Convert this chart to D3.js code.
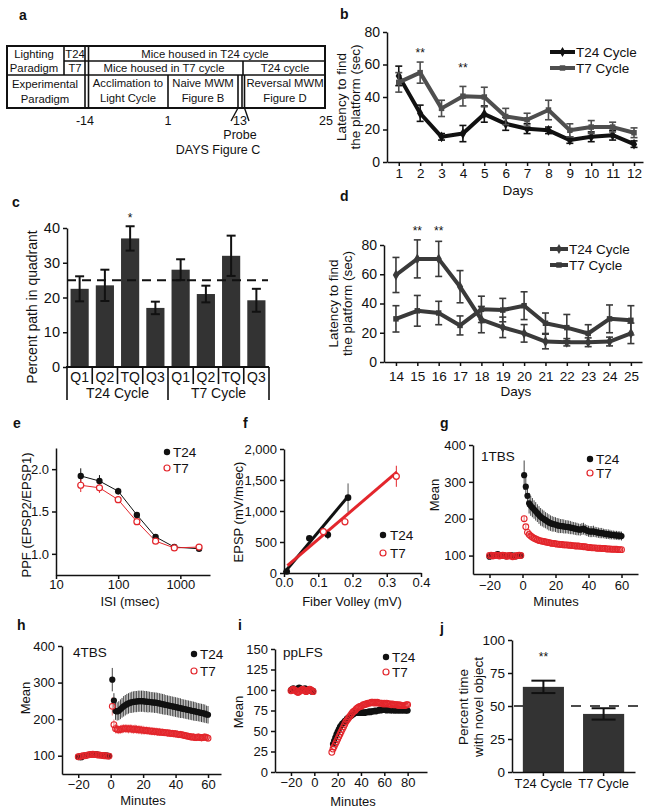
<!DOCTYPE html>
<html><head><meta charset="utf-8">
<script src="https://cdn.jsdelivr.net/npm/d3@7"></script>
<style>body{margin:0;background:#fff} svg{display:block}</style>
</head><body><svg id="c" width="649" height="812"></svg>
<script>
const FONT = '"Liberation Sans", Arial, Helvetica, sans-serif';
const RED = '#e3262c';

// ---------- DATA ----------
// b: naive MWM
const bDays = [1,2,3,4,5,6,7,8,9,10,11,12];
const bT24 = [53,30,15.5,17.5,29.5,23.5,20.5,19.5,13.5,15.5,16.5,11];
const bT24Err = [6,5,2,5,5,4,3,2,2,3,3,2];
const bT7 = [49,55,33,40.5,40,28,26,32,19.5,21.5,21.5,18];
const bT7Err = [6,6.5,5,6,6,5,4,6,4,4,3,3];
const bStarDays = [2,4];
const bStarVals = [67,58];
const bYTicks = [0,20,40,60,80];

// c: probe
const cLabels = ['Q1','Q2','TQ','Q3','Q1','Q2','TQ','Q3'];
const cGroups = ['T24 Cycle','T7 Cycle'];
const cVals = [22.5,23.5,37,17,28,21,32,19.2];
const cErr = [3.6,4.5,3.5,1.8,3,2.4,5.8,3.3];
const cChance = 25;
const cStarIdx = [2];
const cStarVals = [43];
const cYTicks = [0,10,20,30,40];

// d: reversal MWM
const dDays = [14,15,16,17,18,19,20,21,22,23,24,25];
const dT24 = [59.5,70.5,70.5,51.5,29,23.7,19.6,14,13.5,13.5,14,19.6];
const dT24Err = [12,13,12,11,9,7,6,5,2.5,3,3,7];
const dT7 = [29.5,35,33.5,25,36,35.5,38.5,26.5,23.5,19.5,29.5,28.5];
const dT7Err = [9,10.5,8,6.5,9,8,9.5,7,9,6,9.5,10];
const dStarDays = [15,16];
const dStarVals = [89.5,89.5];
const dYTicks = [0,20,40,60,80];

// e: PPF
const eISI = [25,50,100,200,400,800,2000];
const eT24 = [1.92,1.86,1.74,1.46,1.20,1.08,1.06];
const eT24Err = [0.09,0.07,0.04,0.02,0.02,0.01,0.01];
const eT7 = [1.81,1.78,1.64,1.38,1.15,1.07,1.08];
const eT7Err = [0.08,0.06,0.04,0.02,0.02,0.01,0.01];
const eXTicks = [10,100,1000];
const eYTicks = [1.0,1.5,2.0];

// f: input-output
const fT24X = [0.008,0.074,0.128,0.187];
const fT24Y = [25,560,615,1215];
const fT24Err = [10,40,70,230];
const fT7X = [0.115,0.178,0.328];
const fT7Y = [666,827,1560];
const fT7Err = [40,60,170];
const fT24FitX = [0,0.187];
const fT24FitY = [0,1235];
const fT7FitX = [0.01,0.33];
const fT7FitY = [120,1630];
const fXTicks = [0,0.1,0.2,0.3,0.4];
const fYTicks = [0,500,1000,1500,2000];

// g: 1TBS LTP
const gBaseT24 = [97,99,101,100,102,104,101,100,99,100,98,99,100,101,99,100,98,99,101,100];
const gBaseT7  = [100,101,99,100,101,100,99,100,101,100,99,98,100,99,97,98,99,100,101,100];
const gPostT24 = [318,287,262,242,235,230,225,220,215,210, 205,202,199,196,193,190,188,186,185,184,
  182,181,180,180,179,178,178,177,176,175, 174,173,172,171,170,172,173,170,168,166,
  165,165,166,164,163,162,161,161,160,159, 158,158,157,156,156,155,155,154,154,153];
const gPostT24Err = [40,32,30,28,27,26,25,25,24,24, 24,23,23,22,22,22,21,21,20,20,
  20,20,19,19,19,18,18,18,18,17, 17,17,17,16,16,16,16,15,15,15,
  15,15,15,14,14,14,14,14,13,13, 13,13,13,12,12,12,12,12,12,12];
const gPostT7 = [200,178,163,157,153,150,147,145,143,141, 140,139,138,137,136,135,134,133,133,132,
  131,131,130,130,129,129,129,128,128,127, 127,126,126,126,125,125,124,124,123,122,
  122,121,121,121,120,120,120,119,119,119, 118,118,118,117,117,117,117,116,116,116];
const gPostT7Err = [8,6,5,5,5,5,5,5,5,5, 5,5,5,5,5,5,5,5,4,4, 4,4,4,4,4,4,4,4,4,4,
  4,4,4,4,4,4,4,4,4,4, 4,4,4,4,4,4,4,4,3,3, 3,3,3,3,3,3,3,3,3,3];
const gXTicks = [-20,0,20,40,60];
const gYTicks = [100,200,300,400];

// h: 4TBS LTP
const hBaseT24 = [97,96,96,99,100,101,102,103,104,104,103,104,103,102,102,101,101,100,100,99];
const hBaseT7  = [97,98,99,100,100,101,102,103,103,104,103,103,102,102,101,101,100,100,99,99];
const hPostT24 = [308,251,222,221,223,227,231,235,238,241, 243,245,246,247,248,248,249,249,249,249,
  248,248,247,247,246,246,245,245,244,243, 242,241,240,239,238,237,236,235,234,233,
  232,231,230,229,228,227,226,225,224,223, 222,221,220,219,218,217,216,215,213,212];
const hPostT24Err = [32,20,24,25,26,27,27,28,28,28, 28,28,29,29,29,29,29,29,29,29,
  29,29,29,28,28,28,28,28,28,28, 28,28,28,27,27,27,27,27,27,27,
  27,27,27,26,26,26,26,26,26,26, 26,26,25,25,25,25,25,25,24,24];
const hPostT7 = [235,185,174,172,171,172,173,174,174,174, 173,174,173,172,173,172,171,171,170,170,
  169,169,168,168,167,167,166,166,165,165, 164,164,163,163,162,162,161,161,160,160,
  159,158,158,157,156,155,154,153,152,151, 151,150,150,151,150,149,150,151,150,148];
const hPostT7Err = [25,14,13,12,12,12,12,12,12,12, 12,12,12,12,12,12,12,12,12,12,
  11,11,11,11,11,11,11,11,11,11, 10,10,10,10,10,10,10,10,10,10,
  10,10,10,10,10,10,10,10,10,10, 10,10,10,10,10,10,10,10,10,10];

// i: ppLFS LTD
const iBaseT24 = [100,101,102,101,100,101,102,103,102,101,100,101,102,101,100,99,100,99,98,99];
const iBaseT7  = [99,100,101,100,99,98,97,98,99,100,101,100,99,98,99,100,101,100,99,98];
const iPostT24 = [34,38,42,46,49,52,55,57,59,60, 62,63,65,66,67,68,69,70,71,72,
  72,72,73,72,72,73,72,72,73,73, 73,74,73,74,74,74,75,74,75,75,
  76,75,76,76,76,76,75,76,76,75, 76,75,76,75,75,76,75,75,76,75, 75,76,75,75,75];
const iPostT7 = [24,28,31,34,37,40,43,46,49,52, 55,58,61,63,65,67,69,71,73,74,
  75,77,78,79,80,80,81,82,82,83, 83,84,84,84,85,85,84,85,84,85,
  84,84,84,84,83,84,83,84,83,83, 83,82,83,82,82,82,82,81,82,81, 81,81,81,81,82,82];
const iXTicks = [-20,0,20,40,60,80];
const iYTicks = [0,25,50,75,100,125,150];

// j: novel object
const jCats = ['T24 Cycle','T7 Cycle'];
const jVals = [64.5,44];
const jErr = [4.7,4.3];
const jChance = 50;
const jStarVals = [87];
const jYTicks = [0,25,50,75,100];

// ---------- HELPERS ----------
const svg = d3.select('#c');
function styleAxis(g, fs){
  g.attr('font-family', FONT).attr('font-size', fs || 13);
  g.select('.domain').attr('stroke','#111').attr('stroke-width',1.5);
  g.selectAll('.tick line').attr('stroke','#111').attr('stroke-width',1.5);
  g.selectAll('.tick text').attr('fill','#111');
  return g;
}
function text(x, y, s, o){
  o = o || {};
  return svg.append('text').attr('x',x).attr('y',y)
    .attr('font-family',FONT).attr('font-size',o.fs||13)
    .attr('text-anchor',o.anchor||'middle').attr('dominant-baseline','central')
    .attr('font-weight',o.bold?'bold':'normal').attr('fill',o.fill||'#111').text(s);
}
function vtext(x, y, s, fs){
  return svg.append('text').attr('transform',`translate(${x},${y}) rotate(-90)`)
    .attr('font-family',FONT).attr('font-size',fs||13).attr('text-anchor','middle')
    .attr('dominant-baseline','central').attr('fill','#111').text(s);
}
function panel(x,y,s){ text(x,y,s,{bold:true,fs:14,anchor:'start'}); }
function errBars(g, xs, ys, es, x, y, color, cap, sw){
  xs.forEach((xv,i)=>{
    const cx = x(xv), y1 = y(ys[i]+es[i]), y2 = y(ys[i]-es[i]);
    g.append('line').attr('x1',cx).attr('x2',cx).attr('y1',y1).attr('y2',y2).attr('stroke',color).attr('stroke-width',sw||1.5);
    if (cap){
      g.append('line').attr('x1',cx-cap).attr('x2',cx+cap).attr('y1',y1).attr('y2',y1).attr('stroke',color).attr('stroke-width',sw||1.5);
      g.append('line').attr('x1',cx-cap).attr('x2',cx+cap).attr('y1',y2).attr('y2',y2).attr('stroke',color).attr('stroke-width',sw||1.5);
    }
  });
}

// ---------- PANEL A ----------
panel(19,15,'a');
(function(){
  const g = svg.append('g').attr('stroke','#111').attr('fill','none');
  g.append('rect').attr('x',7).attr('y',46).attr('width',318).attr('height',62).attr('stroke-width',2);
  const L = (x1,y1,x2,y2,w)=>g.append('line').attr('x1',x1).attr('y1',y1).attr('x2',x2).attr('y2',y2).attr('stroke-width',w||1.6);
  L(64,61,325,61); L(7,75,325,75);
  L(64,46,64,75); L(85,46,85,108); L(88.5,46,88.5,108);
  L(243,61,243,75);
  L(168,75,168,108); L(238,75,238,108); L(242,75,242,108); L(244.5,75,244.5,108);
  L(238,108,231,121,1.4); L(244.5,108,249,121,1.4);
  const T = (x,y,s)=>text(x,y,s,{fs:11.3});
  T(34,53.5,'Lighting'); T(34,68,'Paradigm');
  T(75,53.5,'T24'); T(75,68,'T7');
  T(205,53.5,'Mice housed in T24 cycle');
  T(164,68,'Mice housed in T7 cycle'); T(285,68,'T24 cycle');
  T(45,84,'Experimental'); T(45,99,'Paradigm');
  T(128,83,'Acclimation to'); T(128,98,'Light Cycle');
  T(203,83,'Naive MWM'); T(203,98,'Figure B');
  T(285,83,'Reversal MWM'); T(285,98,'Figure D');
  const D = (x,y,s)=>text(x,y,s,{fs:12.5});
  D(85,121,'-14'); D(168,121,'1'); D(240,121,'13'); D(326,121,'25');
  D(240,135,'Probe'); D(218,150,'DAYS Figure C');
})();

// ---------- LINE PANELS B / D ----------
function linePanel(o){
  const x = d3.scaleLinear().domain(o.xDom).range(o.xRange);
  const y = d3.scaleLinear().domain([0,80]).range(o.yRange);
  const g = svg.append('g');
  styleAxis(g.append('g').attr('transform',`translate(0,${o.yRange[0]})`)
    .call(d3.axisBottom(x).tickValues(o.days).tickSize(4).tickSizeOuter(0).tickPadding(o.xPad)), 13.5);
  styleAxis(g.append('g').attr('transform',`translate(${o.xRange[0]},0)`)
    .call(d3.axisLeft(y).tickValues(o.yTicks).tickSize(4).tickSizeOuter(0).tickPadding(3)), 14);
  const line = d3.line().x((d,i)=>x(o.days[i])).y(d=>y(d));
  const series = [
    {v:o.t24, e:o.t24e, c:o.c24, sym:d3.symbolDiamond},
    {v:o.t7, e:o.t7e, c:o.c7, sym:d3.symbolSquare}
  ];
  [0,1].forEach(k=>{
    const s = series[k];
    errBars(g, o.days, s.v, s.e, x, y, s.c, 3.5, 1.6);
    g.append('path').datum(s.v).attr('d',line).attr('fill','none').attr('stroke',s.c).attr('stroke-width',4).attr('stroke-linejoin','round');
    g.selectAll(null).data(s.v).enter().append('path')
      .attr('d',d3.symbol().type(s.sym).size(k===0?34:30))
      .attr('transform',(d,i)=>`translate(${x(o.days[i])},${y(d)})`).attr('fill',s.c);
  });
  o.starDays.forEach((dd,i)=>text(x(dd), y(o.starVals[i]), '**', {fs:12}));
  o.leg.forEach((L,i)=>{
    const s = series[i];
    g.append('line').attr('x1',L[0]).attr('x2',L[1]).attr('y1',L[2]).attr('y2',L[2]).attr('stroke',s.c).attr('stroke-width',4);
    g.append('path').attr('d',d3.symbol().type(s.sym).size(30)).attr('transform',`translate(${(L[0]+L[1])/2},${L[2]})`).attr('fill',s.c);
    text(L[1]+1, L[2], i===0?'T24 Cycle':'T7 Cycle', {anchor:'start', fs:13.5});
  });
  text((o.xRange[0]+o.xRange[1])/2+3, o.xLabY, 'Days', {fs:13.5});
  vtext(o.yl1, (o.yRange[0]+o.yRange[1])/2, 'Latency to find', 13.5);
  vtext(o.yl2, (o.yRange[0]+o.yRange[1])/2, 'the platform (sec)', 13.5);
}
panel(340,14,'b');
linePanel({xDom:[0.45,12.42], xRange:[387,643], yRange:[162,32], days:bDays, yTicks:bYTicks, xPad:2,
  t24:bT24, t24e:bT24Err, t7:bT7, t7e:bT7Err, c24:'#111', c7:'#4e4e4e',
  starDays:bStarDays, starVals:bStarVals,
  leg:[[550,575,52],[550,575,68]], xLabY:190, yl1:341, yl2:355});
panel(340,196,'d');
linePanel({xDom:[13.44,25.52], xRange:[384,642], yRange:[362,245], days:dDays, yTicks:dYTicks, xPad:5,
  t24:dT24, t24e:dT24Err, t7:dT7, t7e:dT7Err, c24:'#3a3a3a', c7:'#3a3a3a',
  starDays:dStarDays, starVals:dStarVals,
  leg:[[550,568,249],[550,568,265]], xLabY:391, yl1:333, yl2:347});

// ---------- PANEL C ----------
panel(12,202,'c');
(function(){
  const x = d3.scaleBand().domain(d3.range(cVals.length)).range([67,269]).paddingInner(0.28).paddingOuter(0.14);
  const y = d3.scaleLinear().domain([0,40]).range([367,228]);
  const g = svg.append('g');
  g.selectAll(null).data(cVals).enter().append('rect')
    .attr('x',(d,i)=>x(i)).attr('width',x.bandwidth()).attr('y',d=>y(d)).attr('height',d=>y(0)-y(d)).attr('fill','#333');
  errBars(g, d3.range(cVals.length), cVals, cErr, i=>x(i)+x.bandwidth()/2, y, '#111', 4.5, 2);
  g.append('line').attr('x1',67).attr('x2',268).attr('y1',y(cChance)).attr('y2',y(cChance))
    .attr('stroke','#111').attr('stroke-width',2).attr('stroke-dasharray','9,6');
  styleAxis(g.append('g').attr('transform','translate(67,0)')
    .call(d3.axisLeft(y).tickValues(cYTicks).tickSize(4).tickSizeOuter(0).tickPadding(3)), 14.5);
  g.append('line').attr('x1',66).attr('x2',269).attr('y1',367).attr('y2',367).attr('stroke','#111').attr('stroke-width',2);
  const half = (x.step()-x.bandwidth())/2;
  for (let i=0;i<=cVals.length;i++){
    const sx = i<cVals.length ? x(i)-half : x(cVals.length-1)+x.bandwidth()+half;
    const long = (i%4===0);
    g.append('line').attr('x1',sx).attr('x2',sx).attr('y1',367).attr('y2',long?400:384).attr('stroke','#111').attr('stroke-width',1.6);
  }
  cLabels.forEach((s,i)=>text(x(i)+x.bandwidth()/2, 377, s, {fs:14}));
  cGroups.forEach((s,k)=>{
    const a = x(k*4)-half, b = x(k*4+3)+x.bandwidth()+half;
    text((a+b)/2, 393, s, {fs:14});
  });
  cStarIdx.forEach((ix,i)=>text(x(ix)+x.bandwidth()/2, y(cStarVals[i]), '*', {fs:12}));
  vtext(32, 307, 'Percent path in quadrant', 14);
})();

// ---------- PANEL E ----------
panel(13,423,'e');
(function(){
  const x = d3.scaleLog().domain([10,3000]).range([56,210]);
  const y = d3.scaleLinear().domain([0.75,2.25]).range([575,448]);
  const g = svg.append('g');
  styleAxis(g.append('g').attr('transform','translate(0,575)')
    .call(d3.axisBottom(x).tickValues(eXTicks).tickFormat(d3.format('d')).tickSize(4).tickSizeOuter(0).tickPadding(1)));
  styleAxis(g.append('g').attr('transform','translate(56,0)')
    .call(d3.axisLeft(y).tickValues(eYTicks).tickFormat(d3.format('.1f')).tickSize(4).tickSizeOuter(0).tickPadding(3)));
  const ln = vals => d3.line().x((d,i)=>x(eISI[i])).y(d=>y(d))(vals);
  errBars(g, eISI, eT24, eT24Err, x, y, '#111', 0, 1);
  errBars(g, eISI, eT7, eT7Err, x, y, RED, 0, 1);
  g.append('path').attr('d',ln(eT24)).attr('fill','none').attr('stroke','#111').attr('stroke-width',1);
  g.append('path').attr('d',ln(eT7)).attr('fill','none').attr('stroke',RED).attr('stroke-width',1);
  g.selectAll(null).data(eT24).enter().append('circle').attr('cx',(d,i)=>x(eISI[i])).attr('cy',d=>y(d)).attr('r',3.2).attr('fill','#111');
  g.selectAll(null).data(eT7).enter().append('circle').attr('cx',(d,i)=>x(eISI[i])).attr('cy',d=>y(d)).attr('r',3).attr('fill','#fff').attr('stroke',RED).attr('stroke-width',1.2);
  g.append('circle').attr('cx',167).attr('cy',452).attr('r',3.2).attr('fill','#111');
  text(173,452,'T24',{anchor:'start',fs:13.5});
  g.append('circle').attr('cx',167).attr('cy',468).attr('r',3).attr('fill','#fff').attr('stroke',RED).attr('stroke-width',1.2);
  text(173,468,'T7',{anchor:'start',fs:13.5});
  text(130,601,'ISI (msec)');
  vtext(26,515,'PPF (EPSP2/EPSP1)');
})();

// ---------- PANEL F ----------
panel(243,423,'f');
(function(){
  const x = d3.scaleLinear().domain([0,0.4]).range([284,421]);
  const y = d3.scaleLinear().domain([0,2000]).range([573,449]);
  const g = svg.append('g');
  styleAxis(g.append('g').attr('transform','translate(0,573)')
    .call(d3.axisBottom(x).tickValues(fXTicks).tickFormat(d3.format('.1f')).tickSize(4).tickSizeOuter(0).tickPadding(1)));
  styleAxis(g.append('g').attr('transform','translate(284,0)')
    .call(d3.axisLeft(y).tickValues(fYTicks).tickFormat(d3.format(',')).tickSize(4).tickSizeOuter(0).tickPadding(3)));
  errBars(g, fT24X, fT24Y, fT24Err, x, y, '#555', 0, 1);
  errBars(g, fT7X, fT7Y, fT7Err, x, y, RED, 0, 1);
  const fit = (xs,ys)=>d3.line().x((d,i)=>x(xs[i])).y(d=>y(d))(ys);
  g.append('path').attr('d',fit(fT24FitX,fT24FitY)).attr('stroke','#111').attr('stroke-width',3).attr('fill','none');
  g.append('path').attr('d',fit(fT7FitX,fT7FitY)).attr('stroke',RED).attr('stroke-width',3).attr('fill','none');
  g.selectAll(null).data(fT24Y).enter().append('circle').attr('cx',(d,i)=>x(fT24X[i])).attr('cy',d=>y(d)).attr('r',3.3).attr('fill','#111');
  g.selectAll(null).data(fT7Y).enter().append('circle').attr('cx',(d,i)=>x(fT7X[i])).attr('cy',d=>y(d)).attr('r',3).attr('fill','#fff').attr('stroke',RED).attr('stroke-width',1.2);
  g.append('circle').attr('cx',383).attr('cy',535).attr('r',3.2).attr('fill','#111');
  text(390,535,'T24',{anchor:'start',fs:13.5});
  g.append('circle').attr('cx',383).attr('cy',553).attr('r',3).attr('fill','#fff').attr('stroke',RED).attr('stroke-width',1.2);
  text(390,553,'T7',{anchor:'start',fs:13.5});
  text(352,601,'Fiber Volley (mV)');
  vtext(238,512,'EPSP (mV/msec)');
})();

// ---------- TIME-COURSE PANELS G / H / I ----------
function timePanel(o){
  const x = d3.scaleLinear().domain(o.xDom).range(o.xRange);
  const y = d3.scaleLinear().domain(o.yDom).range(o.yRange);
  const g = svg.append('g');
  styleAxis(g.append('g').attr('transform',`translate(0,${o.yRange[0]})`)
    .call(d3.axisBottom(x).tickValues(o.xTicks).tickSize(4).tickSizeOuter(0).tickPadding(o.xPad)));
  styleAxis(g.append('g').attr('transform',`translate(${o.xRange[0]},0)`)
    .call(d3.axisLeft(y).tickValues(o.yTicks).tickSize(4).tickSizeOuter(0).tickPadding(3)));
  const baseT = d3.range(-o.baseT24.length, 0);
  if (o.postT24Err) errBars(g, o.postT24T, o.postT24, o.postT24Err, x, y, '#444', 0, 1);
  if (o.postT7Err) errBars(g, o.postT7T, o.postT7, o.postT7Err, x, y, '#ec7a7d', 0, 1);
  const dots = (ts, vs) => g.selectAll(null).data(vs).enter().append('circle').attr('cx',(d,i)=>x(ts[i])).attr('cy',d=>y(d));
  dots(baseT, o.baseT24).attr('r',3.1).attr('fill','#111');
  dots(o.postT24T, o.postT24).attr('r',3.1).attr('fill','#111');
  dots(baseT, o.baseT7).attr('r',2.9).attr('fill','none').attr('stroke',RED).attr('stroke-width',1.1);
  dots(o.postT7T, o.postT7).attr('r',2.9).attr('fill','none').attr('stroke',RED).attr('stroke-width',1.1);
  text(o.title[0], o.title[1], o.title[2], {anchor:'start',fs:13.5});
  g.append('circle').attr('cx',o.leg[0]).attr('cy',o.leg[1]).attr('r',3.2).attr('fill','#111');
  text(o.leg[0]+6,o.leg[1],'T24',{anchor:'start',fs:13.5});
  g.append('circle').attr('cx',o.leg[0]).attr('cy',o.leg[2]).attr('r',3).attr('fill','#fff').attr('stroke',RED).attr('stroke-width',1.2);
  text(o.leg[0]+6,o.leg[2],'T7',{anchor:'start',fs:13.5});
  text(o.xl[0], o.xl[1], 'Minutes');
  vtext(o.yl[0], o.yl[1], 'Mean');
}
panel(440,423,'g');
timePanel({xDom:[-30,70], xRange:[473,638], yDom:[50,400], yRange:[574,445], xTicks:gXTicks, yTicks:gYTicks, xPad:3,
  baseT24:gBaseT24, baseT7:gBaseT7,
  postT24:gPostT24, postT24T:d3.range(1,gPostT24.length+1), postT24Err:gPostT24Err,
  postT7:gPostT7, postT7T:d3.range(1,gPostT7.length+1), postT7Err:gPostT7Err,
  title:[481,456,'1TBS'], leg:[590,459,473], xl:[556,601], yl:[434,495]});
panel(17,625,'h');
timePanel({xDom:[-30,68], xRange:[62,221], yDom:[50,400], yRange:[774,646], xTicks:gXTicks, yTicks:gYTicks, xPad:2,
  baseT24:hBaseT24, baseT7:hBaseT7,
  postT24:hPostT24, postT24T:d3.range(1,hPostT24.length+1), postT24Err:hPostT24Err,
  postT7:hPostT7, postT7T:d3.range(1,hPostT7.length+1), postT7Err:hPostT7Err,
  title:[73,652,'4TBS'], leg:[194,654,671], xl:[143,800], yl:[25,698]});
panel(238,625,'i');
timePanel({xDom:[-33.7,96.6], xRange:[275,427], yDom:[0,150], yRange:[772,649], xTicks:iXTicks, yTicks:iYTicks, xPad:2,
  baseT24:iBaseT24, baseT7:iBaseT7,
  postT24:iPostT24, postT24T:d3.range(16,16+iPostT24.length),
  postT7:iPostT7, postT7T:d3.range(15,15+iPostT7.length),
  title:[283,652,'ppLFS'], leg:[386,657,672], xl:[353,801], yl:[238,712]});

// ---------- PANEL J ----------
panel(440,628,'j');
(function(){
  const x = d3.scaleBand().domain(jCats).range([512,635]).paddingInner(0.317).paddingOuter(0.18);
  const y = d3.scaleLinear().domain([0,100]).range([772,640]);
  const g = svg.append('g');
  g.append('line').attr('x1',514).attr('x2',646).attr('y1',y(jChance)).attr('y2',y(jChance))
    .attr('stroke','#111').attr('stroke-width',1.5).attr('stroke-dasharray','10,9');
  g.selectAll(null).data(jVals).enter().append('rect')
    .attr('x',(d,i)=>x(jCats[i])).attr('width',x.bandwidth()).attr('y',d=>y(d)).attr('height',d=>y(0)-y(d)).attr('fill','#333');
  errBars(g, jCats, jVals, jErr, c=>x(c)+x.bandwidth()/2, y, '#111', 12, 2);
  styleAxis(g.append('g').attr('transform','translate(0,772)')
    .call(d3.axisBottom(x).tickSize(4).tickSizeOuter(0).tickPadding(3)), 12.8);
  styleAxis(g.append('g').attr('transform','translate(512,0)')
    .call(d3.axisLeft(y).tickValues(jYTicks).tickSize(4).tickSizeOuter(0).tickPadding(3)), 13.5);
  text(x(jCats[0])+x.bandwidth()/2, y(jStarVals[0]), '**', {fs:12});
  vtext(463,707,'Percent time',13.5);
  vtext(478,707,'with novel object',13.5);
})();
</script></body></html>
